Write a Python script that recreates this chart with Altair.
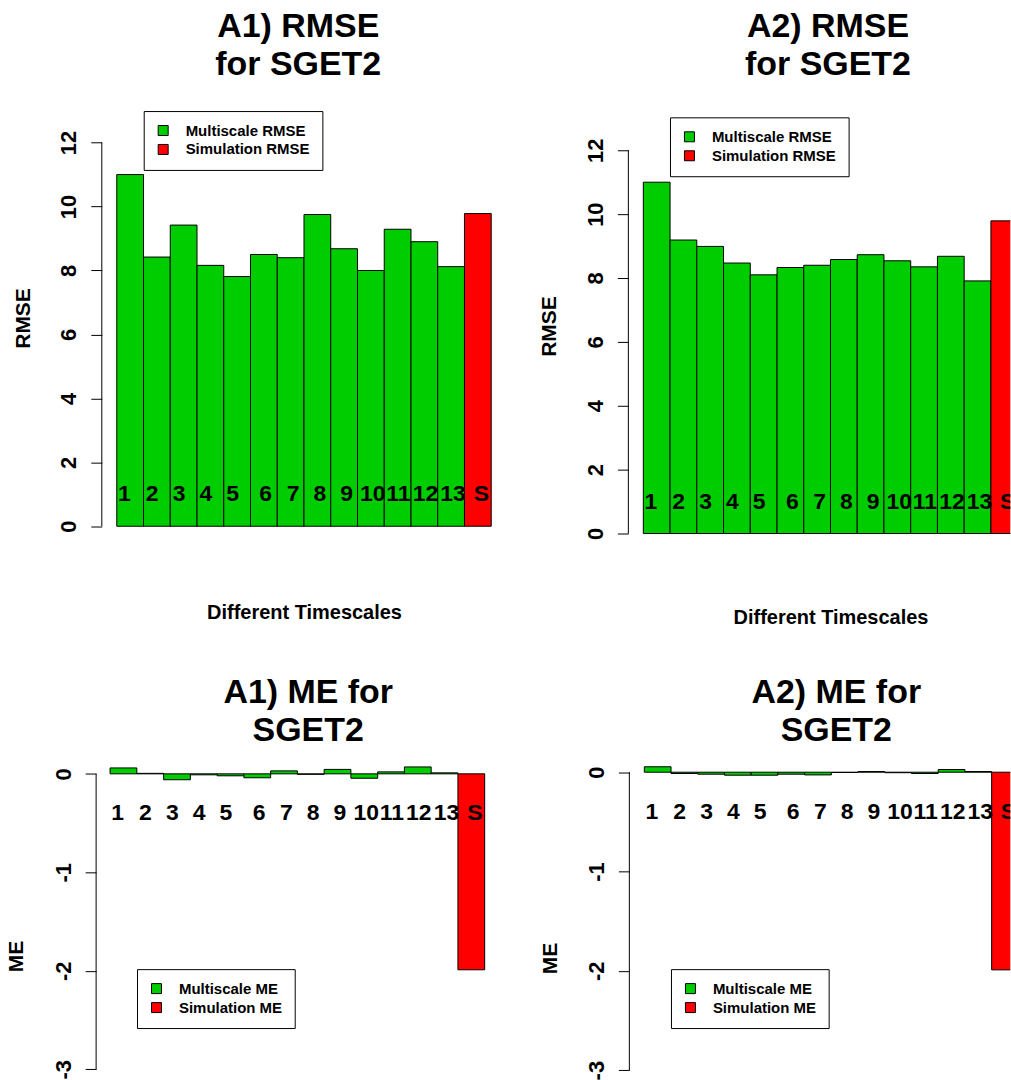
import altair as alt
import pandas as pd

FONT = "Liberation Sans"
GREEN = "#00CD00"
RED = "#FF0000"

labels = ["1", "2", "3", "4", "5", "6", "7", "8", "9", "10", "11", "12", "13", "S"]
label_pos = [0.28, 1.32, 2.33, 3.33, 4.33, 5.57, 6.59, 7.59, 8.59, 9.57, 10.53, 11.54, 12.57, 13.63]

rmse_a1 = [11.0, 8.42, 9.42, 8.16, 7.81, 8.50, 8.40, 9.75, 8.68, 8.00, 9.29, 8.90, 8.12, 9.78]
rmse_a2 = [11.0, 9.19, 8.99, 8.47, 8.10, 8.33, 8.40, 8.58, 8.73, 8.54, 8.35, 8.68, 7.91, 9.79]
me_a1 = [0.06, 0.005, -0.06, -0.01, -0.02, -0.04, 0.03, -0.005, 0.045, -0.045, 0.02, 0.07, 0.01, -1.99]
me_a2 = [0.055, -0.013, -0.02, -0.03, -0.03, -0.02, -0.027, -0.003, 0.007, -0.005, -0.013, 0.027, 0.007, -1.99]

rmse_ticks = [0, 2, 4, 6, 8, 10, 12]
me_ticks = [-3, -2, -1, 0]


def panel(values, title_lines, ylab, legend_labels, xdom, ydom, ticks, axis_off,
          label_y, legend_xy, ytitle_xy, xtitle, width, height, title_dx,
          title_offset, clip):
    df = pd.DataFrame({
        "lab": labels,
        "start": list(range(14)),
        "end": list(range(1, 15)),
        "zero": [0] * 14,
        "value": values,
        "kind": [legend_labels[0]] * 13 + [legend_labels[1]],
        "lpos": label_pos,
        "ly": [label_y] * 14,
    })
    xs = alt.Scale(domain=xdom, nice=False, zero=False)
    ys = alt.Scale(domain=ydom, nice=False, zero=False)
    if xtitle:
        xaxis = alt.Axis(title=xtitle[0], labels=False, ticks=False, domain=False,
                         grid=False, titleX=xtitle[1], titleY=xtitle[2],
                         titleAlign="center", titleBaseline="alphabetic",
                         titleFont=FONT, titleFontSize=20, titleFontWeight="bold",
                         titleColor="black")
    else:
        xaxis = None
    yaxis = alt.Axis(title=ylab, values=ticks, domain=False, grid=False,
                     offset=axis_off, tickSize=11, tickColor="black", tickWidth=1,
                     labelAngle=270, labelAlign="center", labelBaseline="alphabetic",
                     labelPadding=15, labelFont=FONT, labelFontSize=22,
                     labelFontWeight="bold", labelColor="black", labelOverlap=False,
                     labelFlush=False, labelExpr="datum.value",
                     titleAngle=270, titleX=ytitle_xy[0], titleY=ytitle_xy[1],
                     titleAlign="center", titleBaseline="alphabetic",
                     titleFont=FONT, titleFontSize=21, titleFontWeight="bold",
                     titleColor="black")
    base = alt.Chart(df)
    bars = base.mark_bar(stroke="black", strokeWidth=1, clip=clip).encode(
        x=alt.X("start:Q", scale=xs, axis=xaxis),
        x2="end:Q",
        y=alt.Y("zero:Q", scale=ys, axis=yaxis),
        y2="value:Q",
        color=alt.Color(
            "kind:N",
            scale=alt.Scale(domain=legend_labels, range=[GREEN, RED]),
            legend=alt.Legend(
                title=None, orient="none", legendX=legend_xy[0], legendY=legend_xy[1],
                direction="vertical", strokeColor="black", fillColor="white",
                padding=12, symbolType="square", symbolSize=100,
                symbolStrokeColor="black", symbolStrokeWidth=1,
                labelFont=FONT, labelFontSize=15, labelFontWeight="bold",
                labelColor="black", labelOffset=15, rowPadding=3, labelLimit=400,
            ),
        ),
    )
    text = base.mark_text(font=FONT, fontSize=23, fontWeight="bold", color="black",
                          align="center", baseline="middle", clip=clip).encode(
        x=alt.X("lpos:Q", scale=xs, axis=xaxis),
        y=alt.Y("ly:Q", scale=ys, axis=yaxis),
        text="lab:N",
    )
    axis_df = pd.DataFrame({"zero": [ticks[0]], "value": [ticks[-1]]})
    rule = alt.Chart(axis_df).mark_rule(color="black", strokeWidth=1).encode(
        y=alt.Y("zero:Q", scale=ys, axis=yaxis),
        y2="value:Q",
        x=alt.value(-axis_off),
    )
    return alt.layer(bars, text, rule).properties(
        width=width, height=height,
        title=alt.TitleParams(text=title_lines, anchor="middle", font=FONT,
                              fontSize=34, fontWeight="bold", color="black",
                              lineHeight=37.5, offset=title_offset, dx=title_dx),
    )


WL, WR = 420, 381.7
HT, HB = 460, 330

tl = panel(rmse_a1, ["A1) RMSE", "for SGET2"], "RMSE",
           ["Multiscale RMSE", "Simulation RMSE"],
           [-0.5597, 15.112], [-1.008, 13.352], rmse_ticks, 0, 1,
           (42, 11.7), (-72.4, 219), ("Different Timescales", 202.6, 60),
           WL, HT, -13.2, 17.5, False)
tr = panel(rmse_a2, ["A2) RMSE", "for SGET2"], "RMSE",
           ["Multiscale RMSE", "Simulation RMSE"],
           [-0.5226, 13.725], [-0.781, 13.594], rmse_ticks, 1, 1,
           (40.7, 18), (-73.3, 227.2), ("Different Timescales", 201.5, 65),
           WR, HT, 8.2, 17.5, True)
bl = panel(me_a1, ["A1) ME for", "SGET2"], "ME",
           ["Multiscale ME", "Simulation ME"],
           [-0.3096, 15.356], [-3.0578, 0.2868], me_ticks, 5.7, -0.4,
           (35.3, 224), (-73.3, 210.8), None,
           WL, HB, -3.2, -2, False)
br = panel(me_a2, ["A2) ME for", "SGET2"], "ME",
           ["Multiscale ME", "Simulation ME"],
           [-0.5603, 13.698], [-3.048, 0.268], me_ticks, 0, -0.4,
           (41.7, 224), (-72.6, 212.8), None,
           WR, HB, 16.5, -2, True)

chart = alt.concat(
    tl, tr, bl, br, columns=2, bounds="flush",
    spacing={"row": 187.5, "column": 108.6},
).resolve_scale(
    x="independent", y="independent", color="independent"
).properties(
    padding={"left": 5, "top": 9.5, "right": 0, "bottom": 0},
    background="white",
).configure_view(stroke=None)

chart.save("out.html", embed_options={"renderer": "svg", "actions": False})
